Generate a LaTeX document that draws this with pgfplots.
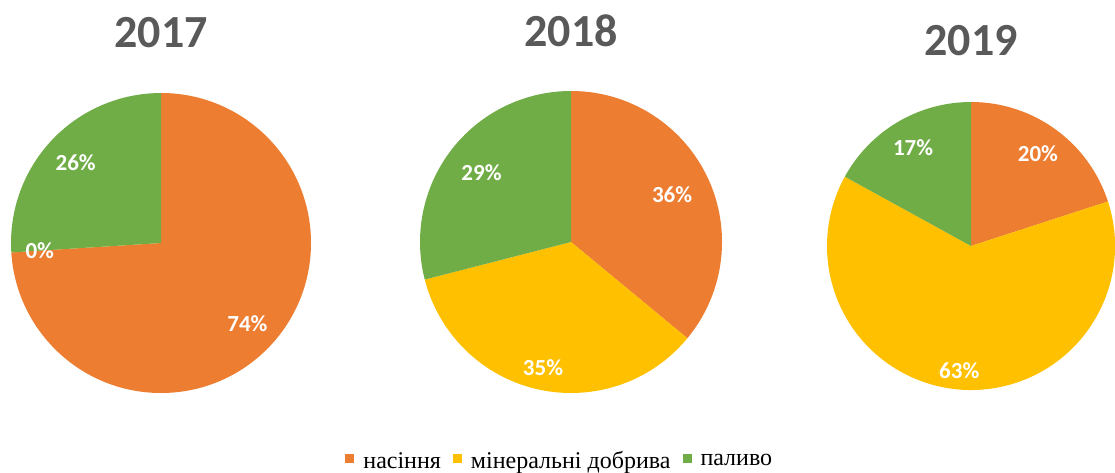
\documentclass[border=0pt]{standalone}
\usepackage{pgfplots}
\pgfplotsset{compat=1.18}
\usepackage{fontspec}
\setmainfont{Liberation Serif}
\newfontfamily\carlito{Carlito}
\definecolor{pieA}{HTML}{ED7D31}
\definecolor{pieB}{HTML}{FFC000}
\definecolor{pieC}{HTML}{70AD47}
\definecolor{titlegray}{HTML}{595959}

\pgfplotsset{pie/.style={hide axis, scale only axis, clip=false,
    xmin=-1, xmax=1, ymin=-1, ymax=1, anchor=center}}

% slice: start %, end %, colour, radius (pt); clockwise from 12 o'clock
\newcommand{\slice}[4]{\fill[#3] (axis cs:0,0) -- (axis cs:{cos(90-3.6*#1)},{sin(90-3.6*#1)})
    arc[start angle={90-3.6*#1}, end angle={90-3.6*#2}, radius=#4pt] -- cycle;}
% label: start %, end %, distance (share of radius), text
\newcommand{\plabel}[4]{\node[font=\carlito\bfseries\fontsize{23}{23}\selectfont, text=white]
    at (axis cs:{#3*cos(90-1.8*(#1+#2))},{#3*sin(90-1.8*(#1+#2))}) {#4};}
\newcommand{\ptitle}[2]{\node[font=\carlito\bfseries\fontsize{46}{46}\selectfont, text=titlegray]
    at (axis description cs:0.5,#1) {#2};}

\begin{document}
\begin{tikzpicture}
\path[use as bounding box] (0,0) rectangle (1115pt,472pt);

% 2017
\begin{axis}[pie, width=300pt, height=300pt, at={(161pt,229pt)}]
\slice{0}{74}{pieA}{150}
\slice{74}{74}{pieB}{150}
\slice{74}{100}{pieC}{150}
\plabel{0}{74}{0.79}{74\%}
\plabel{74}{74}{0.81}{0\%}
\plabel{74}{100}{0.78}{26\%}
\ptitle{1.203}{2017}
\end{axis}

% 2018
\begin{axis}[pie, width=302pt, height=302pt, at={(571pt,230pt)},
    legend style={at={(0.463,-0.225)}, anchor=center, draw=none, fill=none,
        legend columns=3, font=\fontsize{24}{24}\selectfont,
        /tikz/every odd column/.append style={column sep=7pt},
        /tikz/every even column/.append style={column sep=10pt}},
    legend image code/.code={\fill[#1] (0pt,-2.5pt) rectangle (9pt,6.5pt);}]
\addlegendimage{fill=pieA, draw=none}
\addlegendentry{насіння}
\addlegendimage{fill=pieB, draw=none}
\addlegendentry{мінеральні добрива}
\addlegendimage{fill=pieC, draw=none}
\addlegendentry{паливо}
\slice{0}{36}{pieA}{151}
\slice{36}{71}{pieB}{151}
\slice{71}{100}{pieC}{151}
\plabel{0}{36}{0.74}{36\%}
\plabel{36}{71}{0.85}{35\%}
\plabel{71}{100}{0.75}{29\%}
\ptitle{1.199}{2018}
\end{axis}

% 2019
\begin{axis}[pie, width=288pt, height=288pt, at={(971pt,226pt)}]
\slice{0}{20}{pieA}{144}
\slice{20}{83}{pieB}{144}
\slice{83}{100}{pieC}{144}
\plabel{0}{20}{0.79}{20\%}
\plabel{20}{83}{0.87}{63\%}
\plabel{83}{100}{0.79}{17\%}
\ptitle{1.212}{2019}
\end{axis}
\end{tikzpicture}
\end{document}
